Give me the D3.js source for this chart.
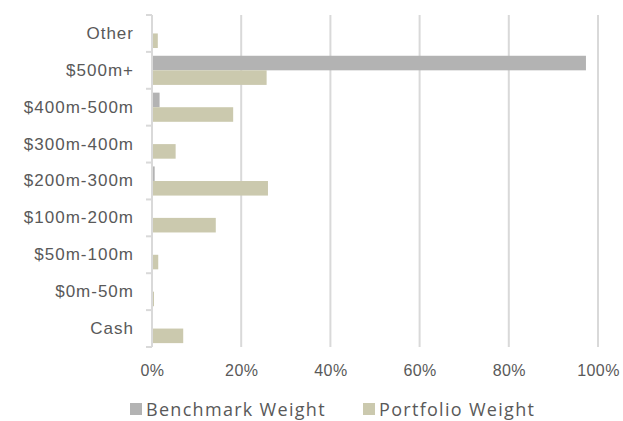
<!DOCTYPE html>
<html lang="en">
<head>
<meta charset="UTF-8">
<title>Benchmark vs Portfolio Weight</title>
<script src="https://cdn.jsdelivr.net/npm/d3@7"></script>
<style>
    body { margin: 0; background: #fff; }
    svg { font-family: "Open Sans", "Noto Sans", sans-serif; }
</style>
</head>
<body>
<div id="chart"></div>
<script>
// categories top to bottom
var categories = ["Other", "$500m+", "$400m-500m", "$300m-400m", "$200m-300m", "$100m-200m", "$50m-100m", "$0m-50m", "Cash"];
var benchmarkWeight = [0, 97.3, 1.7, 0.2, 0.6, 0, 0, 0, 0];
var portfolioWeight = [1.3, 25.7, 18.2, 5.3, 26.0, 14.3, 1.4, 0.45, 7.0];
var seriesNames = ["Benchmark Weight", "Portfolio Weight"];
var seriesColors = ["#b3b3b3", "#cbc9ae"];
var xTicks = [0, 20, 40, 60, 80, 100];

var width = 623, height = 421;
var plotTop = 15, plotBottom = 347;

var svg = d3.select("#chart").append("svg")
    .attr("width", width)
    .attr("height", height);

var x = d3.scaleLinear()
    .domain([0, 100])
    .range([152, 598]);

var y = d3.scaleBand()
    .domain(categories)
    .range([plotTop, plotBottom])
    .paddingInner(0.21)
    .paddingOuter(0.105);

var inner = d3.scaleBand()
    .domain(seriesNames)
    .range([0, y.bandwidth()]);

// gridlines
svg.append("g")
    .selectAll("line")
    .data(xTicks.slice(1))
    .enter().append("line")
    .attr("x1", d => x(d))
    .attr("x2", d => x(d))
    .attr("y1", plotTop)
    .attr("y2", plotBottom)
    .attr("stroke", "#d9d9d9")
    .attr("stroke-width", 2);

// bars
var rows = categories.map((c, i) => ({cat: c, vals: [benchmarkWeight[i], portfolioWeight[i]]}));
var grp = svg.append("g")
    .selectAll("g")
    .data(rows)
    .enter().append("g")
    .attr("transform", d => `translate(0,${y(d.cat)})`);

grp.selectAll("rect")
    .data(d => d.vals.map((v, j) => ({name: seriesNames[j], v: v, j: j})))
    .enter().append("rect")
    .attr("x", x(0))
    .attr("y", d => inner(d.name))
    .attr("width", d => x(d.v) - x(0))
    .attr("height", inner.bandwidth())
    .attr("fill", d => seriesColors[d.j]);

// y axis labels
var ya = svg.append("g")
    .attr("transform", `translate(${x(0)},0)`)
    .call(d3.axisLeft(y).tickSize(0).tickPadding(18));
ya.select(".domain").remove();
ya.selectAll("text")
    .attr("fill", "#595959")
    .style("font-size", "17px")
    .style("letter-spacing", "1px");

// axis line + tick marks between categories
svg.append("line")
    .attr("x1", x(0)).attr("x2", x(0))
    .attr("y1", plotTop).attr("y2", plotBottom)
    .attr("stroke", "#d9d9d9")
    .attr("stroke-width", 2);
var step = (plotBottom - plotTop) / categories.length;
svg.append("g")
    .selectAll("line")
    .data(d3.range(categories.length + 1))
    .enter().append("line")
    .attr("x1", x(0) - 6).attr("x2", x(0))
    .attr("y1", i => plotTop + i * step)
    .attr("y2", i => plotTop + i * step)
    .attr("stroke", "#d9d9d9")
    .attr("stroke-width", 2);

// x axis labels
var xa = svg.append("g")
    .attr("transform", `translate(0,${plotBottom})`)
    .call(d3.axisBottom(x).tickValues(xTicks).tickFormat(d => d + "%").tickSize(0).tickPadding(18));
xa.select(".domain").remove();
xa.selectAll("text")
    .attr("fill", "#595959")
    .style("font-size", "16px")
    .style("letter-spacing", "0.4px");

// legend
var legendX = [130, 363];
var legend = svg.append("g")
    .selectAll("g")
    .data(seriesNames)
    .enter().append("g")
    .attr("transform", (d, i) => `translate(${legendX[i]},403)`);
legend.append("rect")
    .attr("width", 12).attr("height", 12)
    .attr("fill", (d, i) => seriesColors[i]);
legend.append("text")
    .attr("x", 16)
    .attr("y", 13)
    .attr("fill", "#595959")
    .style("font-size", "18px")
    .style("letter-spacing", "1.3px")
    .text(d => d);
</script>
</body>
</html>
